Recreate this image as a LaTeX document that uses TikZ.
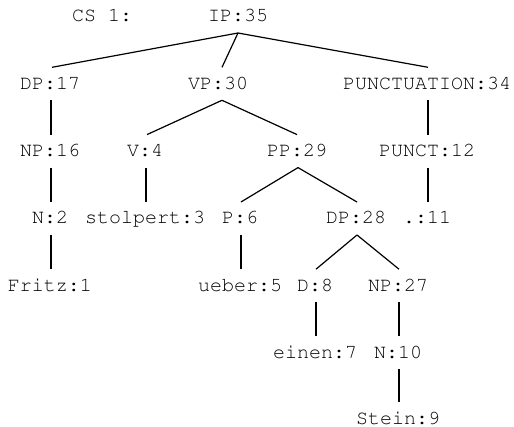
\documentclass[tikz,border=0pt]{standalone}
\usepackage[T1]{fontenc}
\usepackage{courier}
\usetikzlibrary{calc}
\tikzset{
  lbl/.style={anchor=base, inner sep=0pt, font=\ttfamily\fontsize{20pt}{24pt}\selectfont},
  tree/.style={line width=1.2pt, line cap=butt}
}
\begin{document}
\begin{tikzpicture}[x=1pt,y=1pt]
\useasboundingbox (0,0) rectangle (514,-427);
% row 0
\node[lbl] (cs) at (102,-22) {CS 1:};
\node[lbl] (ip) at (238,-22) {IP:35};
% row 1
\node[lbl] (dpa) at (50,-89.3) {DP:17};
\node[lbl] (vp) at (218,-89.3) {VP:30};
\node[lbl] (pu) at (427,-89.3) {PUNCTUATION:34};
% row 2
\node[lbl] (npa) at (50,-156.6) {NP:16};
\node[lbl] (v) at (145,-156.6) {V:4};
\node[lbl] (pp) at (297,-156.6) {PP:29};
\node[lbl] (pt) at (427,-156.6) {PUNCT:12};
% row 3
\node[lbl] (na) at (50,-224) {N:2};
\node[lbl] (st) at (145,-224) {stolpert:3};
\node[lbl] (p) at (240,-224) {P:6};
\node[lbl] (dpb) at (356,-224) {DP:28};
\node[lbl] (dot) at (427,-224) {.:11};
% row 4
\node[lbl] (fr) at (50,-291.2) {Fritz:1};
\node[lbl] (ue) at (240,-291.2) {ueber:5};
\node[lbl] (d) at (315,-291.2) {D:8};
\node[lbl] (npb) at (398,-291.2) {NP:27};
% row 5
\node[lbl] (ei) at (315,-358.5) {einen:7};
\node[lbl] (nb) at (398,-358.5) {N:10};
% row 6
\node[lbl] (sn) at (398,-424.5) {Stein:9};
% connectors
\coordinate (vpt) at ($(vp.base)+(4,22)$);
\coordinate (vpb) at ($(vp.base)+(4,-11)$);
\draw[tree] ($(ip.base)+(0,-11)$) -- ($(dpa.base)+(2,22)$);
\draw[tree] ($(ip.base)+(0,-11)$) -- (vpt);
\draw[tree] ($(ip.base)+(0,-11)$) -- ($(pu.base)+(1,22)$);
\draw[tree] (vpb) -- ($(v.base)+(2,22)$);
\draw[tree] (vpb) -- ($(pp.base)+(0,22)$);
\foreach \a/\b in {dpa/npa, npa/na, na/fr, v/st, pu/pt, pt/dot, pp/p, pp/dpb, p/ue, dpb/d, dpb/npb, d/ei, npb/nb, nb/sn}
  \draw[tree] ($(\a.base)+(1,-11)$) -- ($(\b.base)+(1,22)$);
\end{tikzpicture}
\end{document}
